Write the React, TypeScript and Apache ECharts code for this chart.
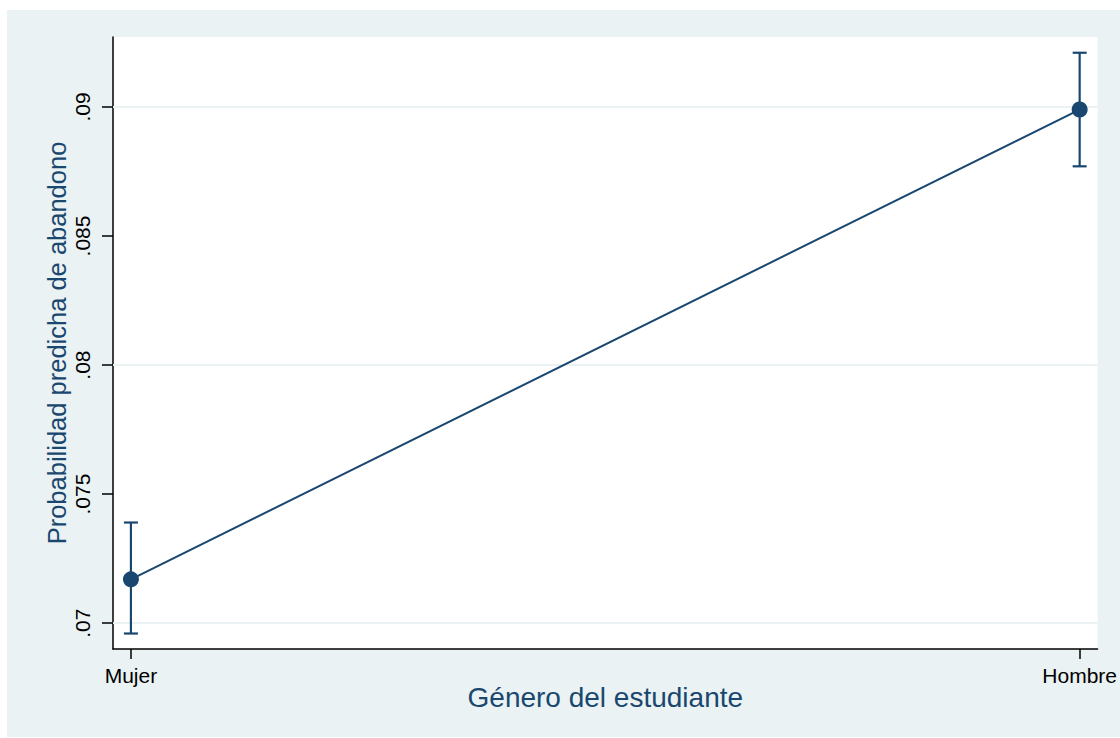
import React, { useEffect, useRef } from "react";
import * as echarts from "echarts";

const categories = ["Mujer", "Hombre"];
const estimates = [0.0717, 0.0899];
const ciLow = [0.0696, 0.0877];
const ciHigh = [0.0739, 0.0921];
const yTicks = [0.07, 0.075, 0.08, 0.085, 0.09];
const yTickLabels = [".07", ".075", ".08", ".085", ".09"];

const NAVY = "#1a476f";
const BG = "#eaf2f3";

export default function App() {
  const ref = useRef<HTMLDivElement>(null);
  useEffect(() => {
    if (!ref.current) return;
    const chart = echarts.init(ref.current, null, { renderer: "svg" });
    const pts = categories.map((_, i) => [i, estimates[i]]);
    const ci = categories.map((_, i) => [i, ciLow[i], ciHigh[i]]);
    chart.setOption({
      animation: false,
      backgroundColor: "#ffffff",
      textStyle: { fontFamily: "'Liberation Sans', Arial, sans-serif" },
      graphic: [
        {
          type: "rect",
          x: 7,
          y: 10,
          z: -100,
          shape: { width: 1113, height: 727 },
          style: { fill: BG },
          silent: true,
        },
      ],
      grid: {
        left: 113,
        top: 37,
        right: 20,
        bottom: 89,
        show: true,
        backgroundColor: "#ffffff",
        borderWidth: 0,
      },
      xAxis: {
        type: "value",
        min: -0.0189,
        max: 1.0189,
        name: "Género del estudiante",
        nameLocation: "middle",
        nameGap: 34,
        nameMoveOverlap: false,
        nameTextStyle: { color: NAVY, fontSize: 28, fontFamily: "'Liberation Sans', Arial, sans-serif" },
        axisLine: { show: true, onZero: false, lineStyle: { color: "#000", width: 1.5 } },
        axisTick: { show: true, length: 10, customValues: [0, 1], lineStyle: { color: "#000", width: 1.5 } },
        axisLabel: {
          customValues: [0, 1],
          formatter: (v: number) => categories[Math.round(v)] ?? "",
          color: "#000",
          fontSize: 21,
          margin: 16,
        },
        splitLine: { show: false },
      },
      yAxis: {
        type: "value",
        min: 0.069,
        max: 0.09271,
        name: "Probabilidad predicha de abandono",
        nameLocation: "middle",
        nameGap: 43,
        nameMoveOverlap: false,
        nameRotate: 90,
        nameTextStyle: { color: NAVY, fontSize: 25.5, fontFamily: "'Liberation Sans', Arial, sans-serif" },
        axisLine: { show: true, onZero: false, lineStyle: { color: "#000", width: 1.5 } },
        axisTick: { show: true, length: 11, customValues: yTicks, lineStyle: { color: "#000", width: 1.5 } },
        axisLabel: {
          customValues: yTicks,
          rotate: 90,
          formatter: (v: number) => {
            const i = yTicks.findIndex((t) => Math.abs(t - v) < 1e-9);
            return i >= 0 ? yTickLabels[i] : "";
          },
          color: "#000",
          fontSize: 21,
          margin: 20,
        },
        splitLine: { show: false },
      },
      series: [
        {
          type: "line",
          data: pts,
          z: 1,
          symbol: "none",
          silent: true,
          lineStyle: { width: 0, opacity: 0 },
          markLine: {
            z: 1,
            silent: true,
            symbol: "none",
            label: { show: false },
            lineStyle: { color: BG, width: 2, type: "solid" },
            data: yTicks.map((v) => ({ yAxis: v })),
          },
        },
        {
          type: "custom",
          z: 3,
          data: ci,
          encode: { x: 0, y: [1, 2] },
          renderItem: (params: any, api: any) => {
            const x = api.value(0);
            const lo = api.coord([x, api.value(1)]);
            const hi = api.coord([x, api.value(2)]);
            const hw = 7;
            const style = { stroke: NAVY, lineWidth: 2.2 };
            return {
              type: "group",
              children: [
                { type: "line", shape: { x1: lo[0], y1: lo[1], x2: hi[0], y2: hi[1] }, style },
                { type: "line", shape: { x1: lo[0] - hw, y1: lo[1], x2: lo[0] + hw, y2: lo[1] }, style },
                { type: "line", shape: { x1: hi[0] - hw, y1: hi[1], x2: hi[0] + hw, y2: hi[1] }, style },
              ],
            };
          },
        },
        {
          type: "line",
          z: 4,
          data: pts,
          symbol: "circle",
          symbolSize: 16,
          itemStyle: { color: NAVY },
          lineStyle: { color: NAVY, width: 2 },
        },
      ],
    });
    return () => chart.dispose();
  }, []);
  return (
    <div
      ref={ref}
      style={{ position: "absolute", left: 0, top: 0, width: 1120, height: 738 }}
    />
  );
}
